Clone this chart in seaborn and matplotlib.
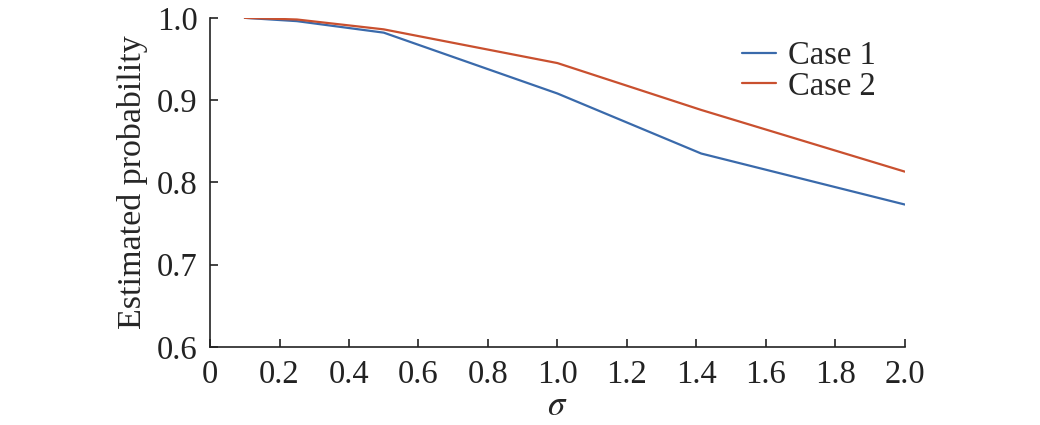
import numpy as np
import pandas as pd
import matplotlib.pyplot as plt
import seaborn as sns

# data
sigma = [0.1, 0.25, 0.5, 1.0, 1.414, 2.0]
case1 = [1.000, 0.996, 0.982, 0.908, 0.835, 0.773]
case2 = [1.000, 0.998, 0.986, 0.945, 0.888, 0.813]
xticks = [0, 0.2, 0.4, 0.6, 0.8, 1.0, 1.2, 1.4, 1.6, 1.8, 2.0]
xticklabels = ['0', '0.2', '0.4', '0.6', '0.8', '1.0', '1.2', '1.4', '1.6', '1.8', '2.0']
yticks = [0.6, 0.7, 0.8, 0.9, 1.0]

df = pd.DataFrame({
    'sigma': sigma * 2,
    'prob': case1 + case2,
    'case': ['Case 1'] * len(sigma) + ['Case 2'] * len(sigma),
})

sns.set_style('ticks')
plt.rcParams['font.family'] = ['Liberation Serif', 'DejaVu Serif']
plt.rcParams['mathtext.fontset'] = 'stix'

fig = plt.figure(figsize=(10.4, 4.25), dpi=100)
ax = fig.add_axes([0.202, 0.184, 0.668, 0.774])

sns.lineplot(data=df, x='sigma', y='prob', hue='case',
             palette=['#3a6aab', '#c9502f'], linewidth=1.6, ax=ax)

ax.set_xlim(0, 2.0)
ax.set_ylim(0.6, 1.0)
ax.set_xticks(xticks)
ax.set_xticklabels(xticklabels)
ax.set_yticks(yticks)
ax.set_yticklabels([f'{v:.1f}' for v in yticks])
ax.tick_params(direction='in', length=6, width=1.2, labelsize=23.5, pad=9,
               colors='#222222')
for s in ['top', 'right']:
    ax.spines[s].set_visible(False)
for s in ['left', 'bottom']:
    ax.spines[s].set_linewidth(1.2)
    ax.spines[s].set_color('#222222')

ax.set_xlabel(r'$\sigma$', fontsize=25, labelpad=0)
ax.set_ylabel('Estimated probability', fontsize=24.5, labelpad=6)

ax.legend(frameon=False, fontsize=23.5, loc='upper right',
          bbox_to_anchor=(1.0, 1.02), handlelength=1.05,
          handletextpad=0.35, labelspacing=0.0)

fig.savefig('out.png', dpi=100)
